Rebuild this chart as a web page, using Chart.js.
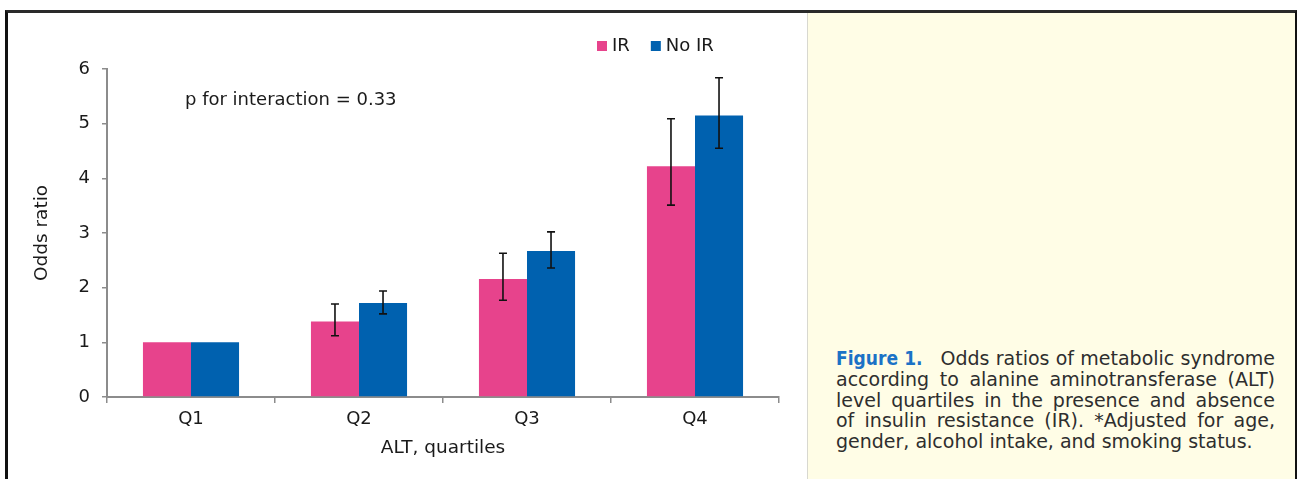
<!DOCTYPE html>
<html>
<head>
<meta charset="utf-8">
<script src="https://cdn.jsdelivr.net/npm/chart.js@4.4.1/dist/chart.umd.min.js"></script>
<style>
  html, body { margin: 0; padding: 0; background: #fff; width: 1297px; height: 479px; overflow: hidden; }
  .frame { position: absolute; left: 5px; top: 10px; width: 1286px; height: 480px;
           border-top: 3px solid #2a2a2a; border-left: 3px solid #111; border-right: 3px solid #111; }
  .plot { position: absolute; left: 8px; top: 13px; width: 798px; height: 466px; }
  .side { position: absolute; left: 807px; top: 13px; width: 487px; height: 466px; background: #fffde6;
          border-left: 1px solid #d8d8d0; }
  .caption { position: absolute; left: 28px; top: 335px; width: 439px; font-family: "DejaVu Sans", sans-serif;
             font-size: 19px; line-height: 20.8px; color: #2e2e2e; text-align: justify; }
  .caption b { font-family: "DejaVu Sans Condensed", "DejaVu Sans", sans-serif; font-weight: bold; color: #1b72c6;
               margin-right: 18px; }
</style>
</head>
<body>
<div class="frame"></div>
<div class="side">
  <div class="caption"><b>Figure 1.</b>Odds ratios of metabolic syndrome according to alanine aminotransferase (ALT) level quartiles in the presence and absence of insulin resistance (IR). *Adjusted for age, gender, alcohol intake, and smoking status.</div>
</div>
<div class="plot"><canvas id="myChart"></canvas></div>
<script>
const categories = ['Q1', 'Q2', 'Q3', 'Q4'];
const irValues = [1.0, 1.38, 2.16, 4.22];
const noIrValues = [1.0, 1.72, 2.67, 5.15];
// error bar ends (Q1 is the reference group, no bars)
const irLow = [null, 1.12, 1.77, 3.51];
const irHigh = [null, 1.70, 2.63, 5.09];
const noIrLow = [null, 1.52, 2.36, 4.55];
const noIrHigh = [null, 1.94, 3.02, 5.84];
const yTicks = [0, 1, 2, 3, 4, 5, 6];
const pText = 'p for interaction = 0.33';

const pink = 'rgb(231, 67, 140)';
const blue = 'rgb(0, 97, 175)';
const axisGray = '#8c8c8c';
const textColor = '#1a1a1a';
const fontFamily = '"DejaVu Sans", sans-serif';

const ctx = document.getElementById('myChart');

const extras = {
  id: 'extras',
  afterDatasetsDraw(chart) {
    const c = chart.ctx;
    const y = chart.scales.y;
    const ends = [[irLow, irHigh], [noIrLow, noIrHigh]];
    c.save();
    c.strokeStyle = '#111';
    c.lineWidth = 1.6;
    ends.forEach(function (pair, i) {
      chart.getDatasetMeta(i).data.forEach(function (bar, j) {
        if (pair[0][j] == null) return;
        const lo = y.getPixelForValue(pair[0][j]);
        const hi = y.getPixelForValue(pair[1][j]);
        c.beginPath();
        c.moveTo(bar.x, lo); c.lineTo(bar.x, hi);
        c.moveTo(bar.x - 4, lo); c.lineTo(bar.x + 4, lo);
        c.moveTo(bar.x - 4, hi); c.lineTo(bar.x + 4, hi);
        c.stroke();
      });
    });

    // legend and annotation
    const area = chart.chartArea;
    c.font = '18px ' + fontFamily;
    c.textBaseline = 'middle';
    c.fillStyle = textColor;
    c.fillText(pText, area.left + 78, area.top + 31);

    let lx = area.left + 490;
    const ly = area.top - 23;
    chart.data.datasets.forEach(function (ds) {
      c.fillStyle = ds.backgroundColor;
      c.fillRect(lx, ly - 5, 10, 10);
      c.fillStyle = textColor;
      c.fillText(ds.label, lx + 15, ly);
      lx += 15 + c.measureText(ds.label).width + 21;
    });
    c.restore();
  }
};

new Chart(ctx, {
  type: 'bar',
  data: {
    labels: categories,
    datasets: [
      { label: 'IR', data: irValues, backgroundColor: pink },
      { label: 'No IR', data: noIrValues, backgroundColor: blue }
    ]
  },
  options: {
    responsive: true,
    maintainAspectRatio: false,
    animation: false,
    layout: { padding: { top: 56, right: 27, left: 0, bottom: 0 } },
    datasets: { bar: { categoryPercentage: 0.572, barPercentage: 1.0 } },
    plugins: { legend: { display: false }, tooltip: { enabled: false } },
    scales: {
      x: {
        afterFit: function (s) { s.height = 82; },
        grid: { offset: true, drawOnChartArea: false, tickLength: 6, color: axisGray, lineWidth: 1.5 },
        border: { color: axisGray, width: 2 },
        ticks: { color: textColor, padding: 6, font: { family: fontFamily, size: 18 } },
        title: { display: true, text: 'ALT, quartiles', color: textColor, padding: { top: 0, bottom: 20 },
                 font: { family: fontFamily, size: 18.5 } }
      },
      y: {
        min: yTicks[0],
        max: yTicks[yTicks.length - 1],
        afterFit: function (s) { s.width = 99; },
        afterBuildTicks: function (s) { s.ticks = yTicks.map(function (v) { return { value: v }; }); },
        grid: { drawOnChartArea: false, tickLength: 5, color: axisGray, lineWidth: 1.5 },
        border: { color: axisGray, width: 2 },
        ticks: { color: textColor, padding: 12, font: { family: fontFamily, size: 18 } },
        title: { display: true, text: 'Odds ratio', color: textColor, padding: { top: 23, bottom: 0 },
                 font: { family: fontFamily, size: 18.5 } }
      }
    }
  },
  plugins: [extras]
});
</script>
</body>
</html>
